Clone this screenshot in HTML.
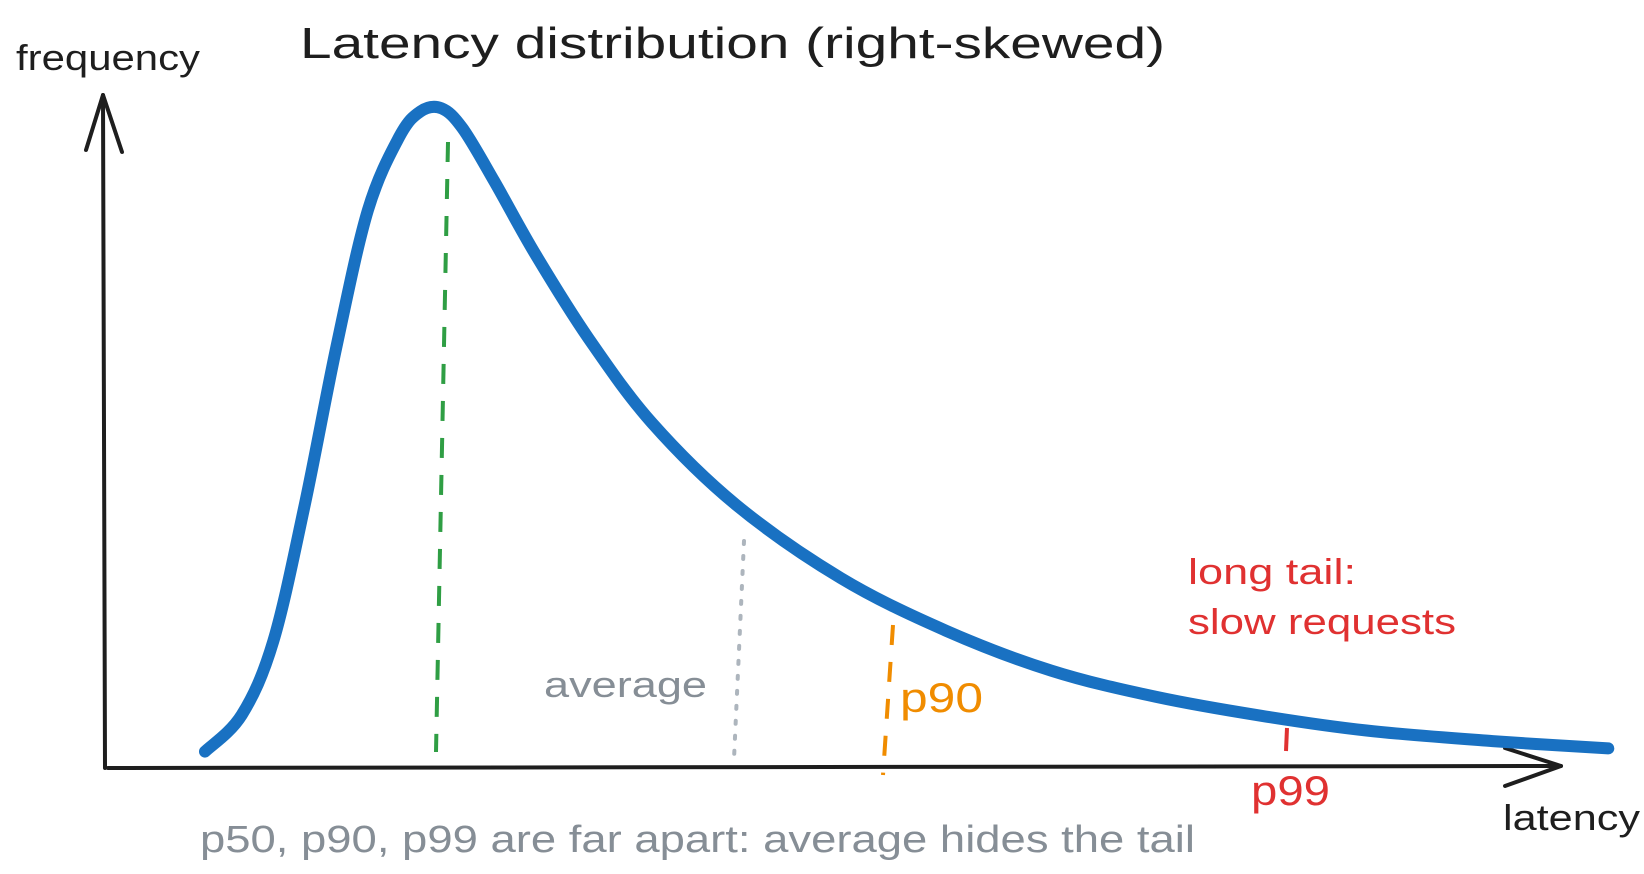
<!DOCTYPE html>
<html><head><meta charset="utf-8"><style>
html,body{margin:0;padding:0;background:#fff;}
svg{display:block;}
text{font-family:"Liberation Sans",sans-serif;}
</style></head><body>
<svg id="s" width="1644" height="874" viewBox="0 0 1644 874" xmlns="http://www.w3.org/2000/svg">
<rect width="1644" height="874" fill="#fff"/>
<path d="M105 768 L103 95" stroke="#1e1e1e" stroke-width="4" fill="none" stroke-linecap="round"/>
<path d="M86 150 L103 95 L122 152" stroke="#1e1e1e" stroke-width="4" fill="none" stroke-linecap="round" stroke-linejoin="round"/>
<path d="M108 768 L1561 766" stroke="#1e1e1e" stroke-width="4" fill="none" stroke-linecap="round"/>
<path d="M1505 748 L1561 766 L1505 786" stroke="#1e1e1e" stroke-width="4" fill="none" stroke-linecap="round" stroke-linejoin="round"/>
<path d="M448 142 L436 752" stroke="#2f9e44" stroke-width="4" stroke-dasharray="20 17" fill="none"/>
<path d="M744 541 L734 759" stroke="#adb5bd" stroke-width="4" stroke-dasharray="3 12" stroke-linecap="round" fill="none"/>
<path d="M893 625 L883 775" stroke="#f08c00" stroke-width="4" stroke-dasharray="20 17" fill="none"/>
<path d="M1287 728 L1286 751" stroke="#e03131" stroke-width="4" fill="none"/>
<path id="c" d="" stroke="#1971c2" stroke-width="12" fill="none" stroke-linecap="round" stroke-linejoin="round"/>
<text x="300" y="58" font-size="44" fill="#1e1e1e" textLength="865" lengthAdjust="spacingAndGlyphs">Latency distribution (right-skewed)</text>
<text x="16" y="70" font-size="36" fill="#1e1e1e" textLength="184" lengthAdjust="spacingAndGlyphs">frequency</text>
<text x="1503" y="830" font-size="36" fill="#1e1e1e" textLength="137" lengthAdjust="spacingAndGlyphs">latency</text>
<text x="1251" y="805" font-size="42" fill="#e03131" textLength="79" lengthAdjust="spacingAndGlyphs">p99</text>
<text x="900" y="712" font-size="42" fill="#f08c00" textLength="83" lengthAdjust="spacingAndGlyphs">p90</text>
<text x="544" y="697" font-size="36" fill="#868e96" textLength="163" lengthAdjust="spacingAndGlyphs">average</text>
<text x="1188" y="584" font-size="36" fill="#e03131" textLength="168" lengthAdjust="spacingAndGlyphs">long tail:</text>
<text x="1188" y="634" font-size="36" fill="#e03131" textLength="268" lengthAdjust="spacingAndGlyphs">slow requests</text>
<text x="200" y="852" font-size="38" fill="#868e96" textLength="995" lengthAdjust="spacingAndGlyphs">p50, p90, p99 are far apart: average hides the tail</text>
</svg>
<script>
var P=[[195,715],[230,680],[260,610],[290,480],[320,330],[350,200],[380,130],[400,106],[420,103],[440,122],[470,172],[510,243],[560,322],[620,402],[700,480],[800,550],[900,600],[1000,638],[1100,663],[1200,681],[1300,695],[1420,705],[1530,712]];
var k=1644/1564;P=P.map(function(p){return [p[0]*k,p[1]*k];});
var d="M"+P[0][0].toFixed(1)+" "+P[0][1].toFixed(1);
for(var i=0;i<P.length-1;i++){var p0=P[Math.max(0,i-1)],p1=P[i],p2=P[i+1],p3=P[Math.min(P.length-1,i+2)];
var c1=[p1[0]+(p2[0]-p0[0])/6,p1[1]+(p2[1]-p0[1])/6],c2=[p2[0]-(p3[0]-p1[0])/6,p2[1]-(p3[1]-p1[1])/6];
d+=" C"+c1[0].toFixed(1)+" "+c1[1].toFixed(1)+" "+c2[0].toFixed(1)+" "+c2[1].toFixed(1)+" "+p2[0].toFixed(1)+" "+p2[1].toFixed(1);}
document.getElementById("c").setAttribute("d",d);
</script>
</body></html>
